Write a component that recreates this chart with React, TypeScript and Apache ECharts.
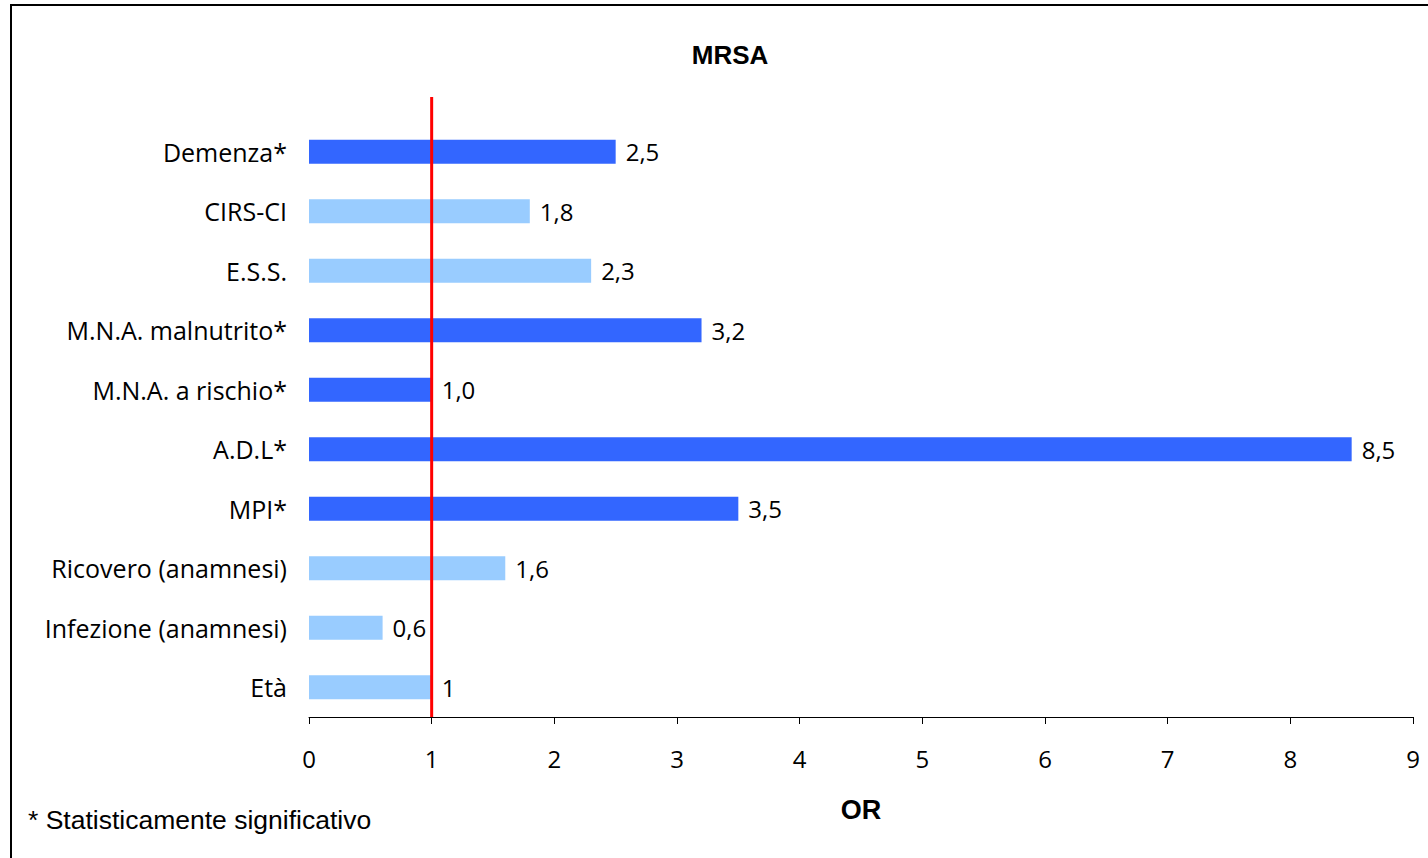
import React, { useEffect, useRef } from "react";
import * as echarts from "echarts";

const categories = [
  "Demenza*",
  "CIRS-CI",
  "E.S.S.",
  "M.N.A. malnutrito*",
  "M.N.A. a rischio*",
  "A.D.L*",
  "MPI*",
  "Ricovero (anamnesi)",
  "Infezione (anamnesi)",
  "Età",
];
const values = [2.5, 1.8, 2.3, 3.2, 1.0, 8.5, 3.5, 1.6, 0.6, 1];
const valueLabels = ["2,5", "1,8", "2,3", "3,2", "1,0", "8,5", "3,5", "1,6", "0,6", "1"];
const significant = [true, false, false, true, true, true, true, false, false, false];
const refValue = 1;

const DARK = "#3366FF";
const LIGHT = "#99CCFF";
const CAT_FONT = "'Open Sans', sans-serif";
const ARIAL = "'Liberation Sans', Arial, sans-serif";

export default function App() {
  const ref = useRef<HTMLDivElement>(null);
  useEffect(() => {
    if (!ref.current) return;
    const chart = echarts.init(ref.current, null, { renderer: "svg" });
    chart.setOption({
      animation: false,
      backgroundColor: "#ffffff",
      graphic: [
        {
          type: "rect",
          shape: { x: 11, y: 5, width: 1440, height: 880 },
          style: { fill: "none", stroke: "#000", lineWidth: 2 },
          silent: true,
        },
        {
          type: "text",
          x: 730,
          y: 55,
          style: {
            text: "MRSA",
            font: `bold 26px ${ARIAL}`,
            fill: "#000",
            textAlign: "center",
            textVerticalAlign: "middle",
          },
        },
        {
          type: "text",
          x: 28,
          y: 820,
          style: {
            text: "* Statisticamente significativo",
            font: `26.5px ${ARIAL}`,
            fill: "#000",
            textAlign: "left",
            textVerticalAlign: "middle",
          },
        },
      ],
      grid: [
        { left: 309, right: 15, top: 122, bottom: 141, containLabel: false },
        { left: 309, right: 15, top: 97, bottom: 141, containLabel: false },
      ],
      xAxis: [
        {
          type: "value",
          gridIndex: 0,
          min: 0,
          max: 9,
          interval: 1,
          axisLine: { show: true, lineStyle: { color: "#000", width: 1 } },
          axisTick: { show: true, length: 7, lineStyle: { color: "#000" } },
          splitLine: { show: false },
          axisLabel: { color: "#000", fontSize: 24, fontFamily: CAT_FONT, margin: 29 },
          name: "OR",
          nameLocation: "middle",
          nameGap: 79,
          nameTextStyle: { fontFamily: ARIAL, fontWeight: "bold", fontSize: 27, color: "#000" },
        },
        { type: "value", gridIndex: 1, min: 0, max: 9, show: false },
      ],
      yAxis: [
        {
          type: "category",
          gridIndex: 0,
          data: categories,
          inverse: true,
          axisLine: { show: false },
          axisTick: { show: false },
          axisLabel: { color: "#000", fontSize: 25, fontFamily: CAT_FONT, margin: 22, padding: [9, 0, 0, 0] },
        },
        { type: "value", gridIndex: 1, min: 0, max: 1, show: false },
      ],
      series: [
        {
          type: "bar",
          xAxisIndex: 0,
          yAxisIndex: 0,
          barWidth: 24,
          data: values.map((v, i) => ({
            value: v,
            itemStyle: { color: significant[i] ? DARK : LIGHT },
          })),
          label: {
            show: true,
            position: "right",
            distance: 10,
            color: "#000",
            fontSize: 24,
            fontFamily: CAT_FONT,
            padding: [5, 0, 0, 0],
            formatter: (p: any) => valueLabels[p.dataIndex],
          },
        },
        {
          type: "line",
          xAxisIndex: 1,
          yAxisIndex: 1,
          data: [
            [refValue, 0],
            [refValue, 1],
          ],
          symbol: "none",
          lineStyle: { color: "#FF0000", width: 3 },
          z: 10,
        },
      ],
    });
    return () => chart.dispose();
  }, []);
  return (
    <div
      ref={ref}
      style={{ position: "fixed", left: 0, top: 0, width: 1428, height: 858 }}
    />
  );
}
